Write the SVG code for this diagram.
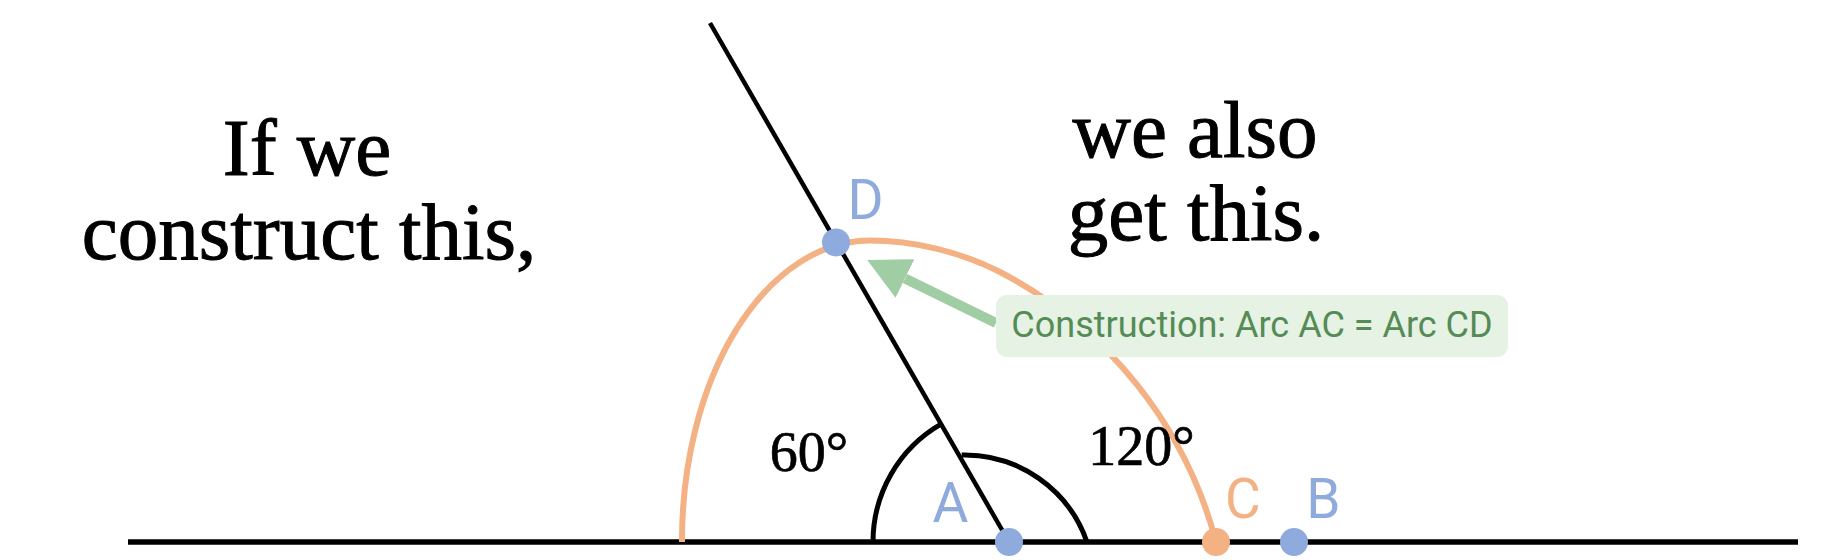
<svg xmlns="http://www.w3.org/2000/svg" width="1827" height="560" viewBox="0 0 1827 560">
  <style>
    .big { font-family: "Liberation Serif", "Times New Roman", serif; font-size: 81px; fill: #000; stroke: #000; stroke-width: 1; text-anchor: middle; }
    .deg { font-family: "Liberation Serif", "Times New Roman", serif; font-size: 56px; fill: #000; stroke: #000; stroke-width: 0.7; text-anchor: middle; }
    .lbl { font-family: Roboto, "Noto Sans", "Liberation Sans", sans-serif; font-size: 55px; text-anchor: middle; }
    .blue { fill: #8FAADC; }
    .orange { fill: #F4B183; }
    .line { stroke: #000; fill: none; stroke-linecap: butt; }
    .orc { stroke: #F4B183; stroke-width: 6; fill: none; }
    .note { font-family: Roboto, "Noto Sans", "Liberation Sans", sans-serif; font-size: 36px; fill: #558B55; text-anchor: middle; }
  </style>
  <defs>
    <marker id="head" viewBox="0 0 42 43" refX="0" refY="21.5" markerWidth="42" markerHeight="43" markerUnits="userSpaceOnUse" orient="auto">
      <path d="M0,0 L42,21.5 L0,43 Z" fill="#A0CDA4"/>
    </marker>
  </defs>
  <rect width="1827" height="560" fill="#fff"/>

  <g id="connectors">
    <line class="line" x1="128" y1="542" x2="1798" y2="542" stroke-width="5.5"/>
    <line class="line" x1="710" y1="23" x2="1009" y2="542" stroke-width="4.5"/>
    <path class="line" stroke-width="5" d="M873,542 A136,136 0 0 1 941,424.2"/>
    <path class="line" stroke-width="5" d="M961.7,455 A129.6,129.6 0 0 1 1087,542"/>
    <path class="orc" d="M682,542 A188,300 0 0 1 870,240.5 C913,240.5 960,251.5 1000,272 A427,427 0 0 1 1216,542"/>
    <path d="M996,323 L905,278.5" stroke="#A0CDA4" stroke-width="10" fill="none" marker-end="url(#head)"/>
  </g>

  <g id="note">
    <rect x="996" y="295" width="512" height="62" rx="11" fill="#E5F2E4"/>
    <text class="note" x="1252" y="337">Construction: Arc AC = Arc CD</text>
  </g>

  <g id="point-A"><circle class="blue" cx="1009" cy="542" r="14"/><text class="lbl blue" x="950.5" y="522">A</text></g>
  <g id="point-C"><circle class="orange" cx="1216" cy="542" r="14"/><text class="lbl orange" x="1243" y="518">C</text></g>
  <g id="point-B"><circle class="blue" cx="1294" cy="542" r="14"/><text class="lbl blue" x="1323.5" y="518">B</text></g>
  <g id="point-D"><circle class="blue" cx="836" cy="242.5" r="14"/><text class="lbl blue" x="865.5" y="219">D</text></g>

  <g id="angle-60"><text class="deg" x="809" y="471">60°</text></g>
  <g id="angle-120"><text class="deg" x="1141.5" y="465">120°</text></g>

  <g id="text-left">
    <text class="big" x="307" y="175">If we</text>
    <text class="big" x="309" y="259">construct this,</text>
  </g>
  <g id="text-right">
    <text class="big" x="1195" y="157">we also</text>
    <text class="big" x="1196" y="240">get this.</text>
  </g>
</svg>
